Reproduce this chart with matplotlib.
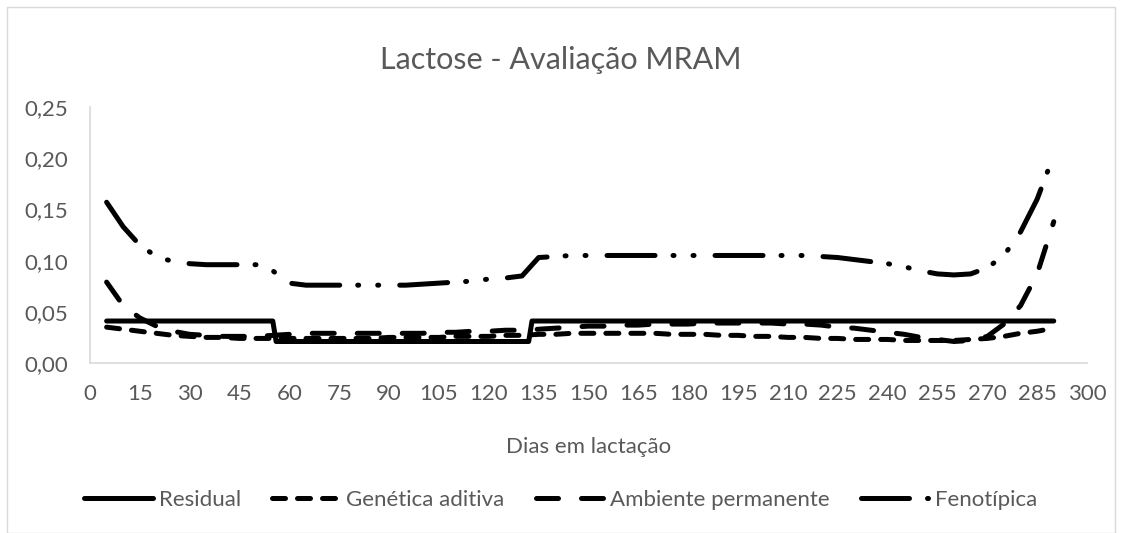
import matplotlib
matplotlib.use("Agg")
import matplotlib.pyplot as plt
from matplotlib.patches import Rectangle

plt.rcParams['font.family'] = ['Lato', 'DejaVu Sans']

# dias em lactação (a cada 5 dias)
dias = list(range(5, 291, 5))

# Residual: patamares (degraus)
dias_res = [5, 55, 56, 132, 133, 290]
residual = [0.041, 0.041, 0.021, 0.021, 0.041, 0.041]

genetica = [0.035, 0.033, 0.031, 0.029, 0.027, 0.026, 0.025, 0.025, 0.024, 0.024,
            0.024, 0.024, 0.024, 0.024, 0.024, 0.024, 0.024, 0.025, 0.025, 0.025,
            0.025, 0.026, 0.026, 0.026, 0.027, 0.027, 0.028, 0.028, 0.029, 0.029,
            0.029, 0.029, 0.029, 0.029, 0.028, 0.028, 0.028, 0.027, 0.027, 0.026,
            0.026, 0.025, 0.025, 0.024, 0.024, 0.023, 0.023, 0.023, 0.022, 0.022,
            0.022, 0.022, 0.023, 0.024, 0.026, 0.029, 0.031, 0.034]

ambiente = [0.079, 0.056, 0.044, 0.036, 0.031, 0.028, 0.027, 0.026, 0.026, 0.026,
            0.027, 0.028, 0.029, 0.029, 0.029, 0.029, 0.029, 0.029, 0.029, 0.029,
            0.030, 0.030, 0.031, 0.031, 0.032, 0.032, 0.033, 0.034, 0.035, 0.036,
            0.036, 0.037, 0.037, 0.038, 0.038, 0.038, 0.039, 0.039, 0.039, 0.039,
            0.039, 0.038, 0.038, 0.037, 0.035, 0.034, 0.032, 0.030, 0.028, 0.025,
            0.023, 0.021, 0.022, 0.026, 0.038, 0.056, 0.087, 0.138]

fenotipica = [0.157, 0.133, 0.115, 0.104, 0.099, 0.097, 0.096, 0.096, 0.096, 0.096,
              0.090, 0.078, 0.076, 0.076, 0.076, 0.076, 0.076, 0.076, 0.076, 0.077,
              0.078, 0.079, 0.080, 0.082, 0.083, 0.085, 0.103, 0.104, 0.105, 0.105,
              0.105, 0.105, 0.105, 0.105, 0.105, 0.105, 0.105, 0.105, 0.105, 0.105,
              0.105, 0.105, 0.105, 0.104, 0.103, 0.101, 0.099, 0.097, 0.094, 0.090,
              0.087, 0.086, 0.087, 0.093, 0.105, 0.128, 0.160, 0.203]

xticks = list(range(0, 301, 15))
yticks = [0.00, 0.05, 0.10, 0.15, 0.20, 0.25]

cinza = '#595959'
lw = 3.6

fig = plt.figure(figsize=(11.22, 5.33), dpi=100)
ax = fig.add_axes([90 / 1122, 170 / 533, 997 / 1122, 256 / 533])

ax.plot(dias_res, residual, color='black', lw=lw, solid_capstyle='round',
        solid_joinstyle='round', label='Residual')
ax.plot(dias, genetica, color='black', lw=lw, dashes=(2.6, 2.4),
        dash_capstyle='round', label='Genética aditiva')
ax.plot(dias, ambiente, color='black', lw=lw, dashes=(4.4, 4.6),
        dash_capstyle='round', label='Ambiente permanente')
ax.plot(dias, fenotipica, color='black', lw=lw,
        dashes=(9.6, 3.6, 0.2, 3.8, 0.2, 4.2),
        dash_capstyle='round', label='Fenotípica')

ax.set_xlim(0, 300)
ax.set_ylim(0, 0.25)
ax.set_xticks(xticks)
ax.set_xticklabels([str(t) for t in xticks])
ax.set_yticks(yticks)
ax.set_yticklabels([f'{t:.2f}'.replace('.', ',') for t in yticks])
ax.tick_params(length=0, labelsize=16, colors=cinza, pad=15)
ax.tick_params(axis='y', pad=16)

for s in ['top', 'right']:
    ax.spines[s].set_visible(False)
for s in ['left', 'bottom']:
    ax.spines[s].set_color('#D9D9D9')
    ax.spines[s].set_linewidth(1.2)

ax.set_xlabel('Dias em lactação', fontsize=16, color=cinza, labelpad=24)

fig.text(0.5, 1 - 60 / 533, 'Lactose - Avaliação MRAM', ha='center',
         va='center', fontsize=22, color=cinza)

fig.legend(loc='center', bbox_to_anchor=(0.5, 33 / 533), ncol=4, frameon=False,
           fontsize=16, handlelength=3.1, handletextpad=0.25, columnspacing=1.4,
           labelcolor=cinza)

fig.patches.append(Rectangle((7 / 1122, 0), 1 - 14 / 1122, 1 - 7 / 533,
                             transform=fig.transFigure, fill=False,
                             edgecolor='#D9D9D9', lw=1))

fig.savefig('out.png', dpi=100)
